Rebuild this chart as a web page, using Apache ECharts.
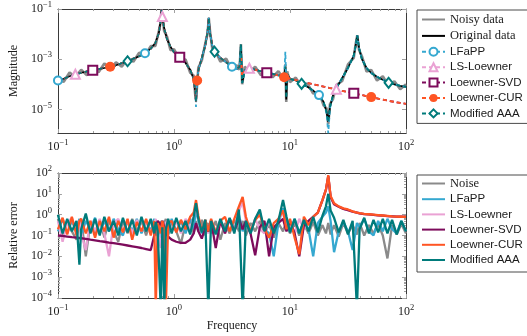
<!DOCTYPE html>
<html><head><meta charset="utf-8">
<script src="https://cdn.jsdelivr.net/npm/echarts@6/dist/echarts.min.js"></script>
<style>html,body{margin:0;padding:0;background:#fff}#c{width:527px;height:336px}</style>
</head><body><div id="c"></div><script>
// ---------- DATA (log10 values) ----------
// Top panel: frequency grid (log10 f)
const topLogF = [-1.00,-0.95,-0.90,-0.85,-0.80,-0.75,-0.70,-0.65,-0.60,-0.55,-0.50,-0.45,-0.40,-0.35,-0.30,-0.25,-0.20,-0.16,-0.13,-0.115,-0.108,-0.10,-0.085,-0.06,-0.03,0.00,0.05,0.10,0.14,0.17,0.183,0.19,0.20,0.21,0.24,0.27,0.29,0.30,0.31,0.33,0.35,0.40,0.45,0.50,0.54,0.565,0.577,0.588,0.61,0.65,0.70,0.75,0.80,0.85,0.90,0.95,0.96,0.968,0.976,1.00,1.05,1.10,1.15,1.20,1.25,1.29,1.315,1.33,1.345,1.37,1.40,1.45,1.50,1.55,1.565,1.58,1.595,1.62,1.66,1.70,1.75,1.80,1.85,1.90,1.95,2.00];
// log10 magnitude
const noisyMag = [-3.80,-3.90,-3.53,-3.70,-3.42,-3.64,-3.36,-3.52,-3.17,-3.40,-3.12,-3.30,-2.98,-3.10,-2.74,-2.84,-2.48,-2.47,-1.87,-1.55,-1.02,-1.25,-1.87,-2.10,-2.64,-2.60,-3.02,-3.01,-3.54,-3.65,-4.40,-4.60,-4.00,-3.33,-3.05,-2.37,-1.98,-1.35,-1.85,-2.57,-2.60,-3.10,-2.98,-3.42,-3.24,-3.42,-2.40,-4.00,-3.30,-3.50,-3.30,-3.64,-3.42,-3.72,-3.48,-3.82,-3.20,-4.70,-3.48,-3.92,-3.73,-4.13,-3.96,-4.37,-4.31,-4.85,-4.95,-5.60,-4.78,-4.60,-4.03,-3.87,-3.21,-2.95,-2.42,-2.05,-2.63,-2.88,-3.49,-3.43,-3.85,-3.68,-4.06,-3.88,-4.20,-4.00];
const originalMag = [-3.85,-3.78,-3.68,-3.60,-3.54,-3.49,-3.44,-3.40,-3.35,-3.30,-3.24,-3.16,-3.08,-2.98,-2.88,-2.76,-2.58,-2.35,-1.95,-1.45,-1.02,-1.30,-1.75,-2.20,-2.50,-2.72,-2.92,-3.15,-3.42,-3.80,-4.25,-4.70,-3.85,-3.45,-2.95,-2.45,-1.90,-1.35,-1.95,-2.45,-2.70,-2.95,-3.12,-3.30,-3.40,-3.30,-2.45,-3.95,-3.45,-3.36,-3.42,-3.48,-3.54,-3.58,-3.64,-3.70,-3.30,-4.60,-3.60,-3.78,-3.85,-3.98,-4.10,-4.25,-4.43,-4.70,-5.10,-5.50,-4.90,-4.45,-4.15,-3.75,-3.35,-2.85,-2.50,-2.05,-2.55,-3.00,-3.35,-3.55,-3.70,-3.82,-3.94,-4.00,-4.06,-4.10];
const lfappMag = [-3.85,-3.78,-3.68,-3.60,-3.54,-3.49,-3.44,-3.40,-3.35,-3.30,-3.24,-3.16,-3.08,-2.98,-2.88,-2.76,-2.58,-2.35,-1.95,-1.45,-1.02,-1.30,-1.75,-2.20,-2.50,-2.72,-2.92,-3.15,-3.42,-3.80,-4.25,-4.90,-3.85,-3.45,-2.95,-2.45,-1.90,-1.35,-1.95,-2.45,-2.70,-2.95,-3.12,-3.30,-3.40,-3.30,-2.45,-3.95,-3.45,-3.36,-3.42,-3.48,-3.54,-3.58,-3.64,-3.70,-2.70,-3.95,-3.62,-3.78,-3.85,-3.98,-4.10,-4.25,-4.43,-4.70,-5.15,-5.95,-4.95,-4.45,-4.15,-3.75,-3.35,-2.85,-2.50,-2.05,-2.55,-3.00,-3.35,-3.55,-3.70,-3.82,-3.94,-4.00,-4.06,-4.10];
const lsMag = [-3.85,-3.78,-3.68,-3.60,-3.54,-3.49,-3.44,-3.40,-3.35,-3.30,-3.24,-3.16,-3.08,-2.98,-2.88,-2.76,-2.58,-2.35,-1.95,-1.45,-1.02,-1.30,-1.75,-2.20,-2.50,-2.72,-2.92,-3.15,-3.42,-3.80,-4.25,-4.70,-3.85,-3.45,-2.95,-2.45,-1.90,-1.35,-1.95,-2.45,-2.70,-2.95,-3.12,-3.30,-3.40,-3.30,-2.90,-3.70,-3.45,-3.36,-3.42,-3.48,-3.54,-3.59,-3.65,-3.72,-3.73,-3.74,-3.75,-3.77,-3.83,-3.89,-3.95,-4.00,-4.05,-4.09,-4.12,-4.13,-4.15,-4.17,-4.20,-4.26,-4.31,-4.36,-4.37,-4.39,-4.40,-4.43,-4.47,-4.51,-4.56,-4.61,-4.66,-4.70,-4.74,-4.78];
const svdMag = [-3.85,-3.78,-3.68,-3.60,-3.54,-3.49,-3.44,-3.40,-3.35,-3.30,-3.24,-3.16,-3.08,-2.98,-2.88,-2.76,-2.58,-2.35,-1.95,-1.45,-1.02,-1.30,-1.75,-2.20,-2.50,-2.72,-2.92,-3.15,-3.42,-3.80,-4.25,-4.70,-3.85,-3.45,-2.95,-2.45,-1.90,-1.35,-1.95,-2.45,-2.70,-2.95,-3.12,-3.30,-3.40,-3.30,-2.90,-3.70,-3.45,-3.36,-3.42,-3.48,-3.54,-3.59,-3.65,-3.72,-3.73,-3.74,-3.75,-3.77,-3.83,-3.89,-3.95,-4.00,-4.05,-4.09,-4.12,-4.13,-4.15,-4.17,-4.20,-4.26,-4.31,-4.36,-4.37,-4.39,-4.40,-4.43,-4.47,-4.51,-4.56,-4.61,-4.66,-4.70,-4.74,-4.78];
const curMag = [-3.85,-3.78,-3.68,-3.60,-3.54,-3.49,-3.44,-3.40,-3.35,-3.30,-3.24,-3.16,-3.08,-2.98,-2.88,-2.76,-2.58,-2.35,-1.95,-1.45,-1.02,-1.30,-1.75,-2.20,-2.50,-2.72,-2.92,-3.15,-3.42,-3.80,-4.25,-4.70,-3.85,-3.45,-2.95,-2.45,-1.90,-1.35,-1.95,-2.45,-2.70,-2.95,-3.12,-3.30,-3.40,-3.30,-2.90,-3.70,-3.45,-3.36,-3.42,-3.48,-3.54,-3.59,-3.65,-3.72,-3.73,-3.74,-3.75,-3.77,-3.83,-3.89,-3.95,-4.00,-4.05,-4.09,-4.12,-4.13,-4.15,-4.17,-4.20,-4.26,-4.31,-4.36,-4.37,-4.39,-4.40,-4.43,-4.47,-4.51,-4.56,-4.61,-4.66,-4.70,-4.74,-4.78];
const aaaMag = [-3.85,-3.78,-3.68,-3.60,-3.54,-3.49,-3.44,-3.40,-3.35,-3.30,-3.24,-3.16,-3.08,-2.98,-2.88,-2.76,-2.58,-2.35,-1.95,-1.45,-1.02,-1.30,-1.75,-2.20,-2.50,-2.72,-2.92,-3.15,-3.42,-3.80,-4.25,-4.70,-3.85,-3.45,-2.95,-2.45,-1.90,-1.35,-1.95,-2.45,-2.70,-2.95,-3.12,-3.30,-3.40,-3.30,-2.40,-3.95,-3.45,-3.36,-3.42,-3.48,-3.54,-3.58,-3.64,-3.70,-3.30,-4.55,-3.60,-3.78,-3.85,-3.98,-4.10,-4.25,-4.43,-4.70,-5.10,-5.50,-4.90,-4.45,-4.15,-3.75,-3.35,-2.85,-2.50,-2.05,-2.55,-3.00,-3.35,-3.55,-3.70,-3.82,-3.94,-4.00,-4.06,-4.10];
// marker locations (log10 f)
const lfappMarks = [-1.00,-0.25,0.50,1.25];
const lsMarks = [-0.85,-0.10,0.65,1.40];
const svdMarks = [-0.70,0.05,0.80,1.55];
const curMarks = [-0.55,0.20,0.95,1.70];
const aaaMarks = [-0.40,0.35,1.10,1.85];

// Bottom panel: frequency grid (log10 f), log10 relative error
const botLogF = [-1.00,-0.96,-0.92,-0.88,-0.84,-0.815,-0.80,-0.76,-0.72,-0.68,-0.64,-0.60,-0.56,-0.52,-0.48,-0.44,-0.40,-0.36,-0.32,-0.28,-0.24,-0.20,-0.17,-0.157,-0.14,-0.114,-0.10,-0.083,-0.07,-0.05,-0.02,0.02,0.06,0.10,0.14,0.17,0.19,0.21,0.24,0.27,0.296,0.32,0.36,0.40,0.44,0.48,0.52,0.56,0.592,0.62,0.66,0.70,0.74,0.78,0.82,0.86,0.90,0.94,0.97,1.00,1.04,1.08,1.12,1.16,1.20,1.24,1.28,1.31,1.33,1.35,1.38,1.42,1.46,1.50,1.54,1.577,1.60,1.64,1.68,1.72,1.76,1.80,1.84,1.88,1.92,1.96,2.00];
const noiseErr = [-0.2,-1.0,-0.3,-0.8,-1.2,-0.4,-0.2,-2.0,-0.4,-0.9,-0.25,-1.1,-0.3,-0.8,-1.3,-0.3,-0.9,-0.2,-0.8,-0.3,-1.0,-0.25,-0.8,-0.35,-1.0,-0.3,-1.6,-0.4,-0.2,-1.0,-0.3,-0.8,-1.4,-0.4,-0.2,-0.9,-0.3,-0.8,-0.25,-1.0,-0.4,-0.9,-0.3,-1.2,-0.4,-0.9,-0.25,-0.8,-0.3,-1.0,-0.4,-0.8,-0.3,-0.9,-0.45,-1.1,-0.4,-0.8,-0.3,-0.9,-0.4,-1.0,-0.45,-0.9,-0.35,-1.0,-0.5,-0.9,-0.4,-0.95,-0.5,-1.05,-0.4,-0.9,-0.5,-0.95,-0.4,-1.0,-0.5,-0.9,-0.45,-1.0,-2.1,-0.5,-0.95,-0.45,-0.9];
const lfappErr = [-0.8,-0.2,-0.9,-0.3,-0.8,-0.2,-1.0,-0.3,-0.7,-0.15,-0.9,-0.3,-0.8,-0.2,-0.7,-1.0,-0.3,-0.8,-0.2,-0.9,-0.3,-0.8,-0.2,-1.0,-0.4,-1.5,-0.3,-1.0,-0.4,-0.9,-0.2,-0.8,-0.3,-0.9,-0.2,-0.7,0.3,-0.3,-0.9,-0.25,-0.8,-0.3,-0.9,-0.25,-0.8,-0.2,-0.7,0.0,-0.8,-0.3,-0.9,-0.2,0.1,-0.7,-0.9,-2.0,-0.4,0.3,-0.3,-0.8,-0.2,-0.9,-0.3,-0.7,-2.0,-0.4,-0.1,0.1,0.4,-0.3,-1.8,-0.8,-0.35,-0.8,-1.7,-0.4,-0.6,-0.2,-0.8,-1.0,-0.3,-0.8,-0.2,-0.7,-0.9,-0.3,-0.8];
const lsErr = [-0.3,-1.3,-0.4,-0.15,-0.8,-0.3,-0.9,-1.7,-0.3,-0.8,-0.2,-0.9,-2.0,-0.4,-0.2,-0.8,-0.3,-0.9,-0.25,-0.8,-0.3,-0.9,-0.4,-0.2,-0.8,-1.6,-0.3,-0.9,-0.4,-0.25,-0.8,-0.3,-0.9,-0.2,-0.7,-0.1,0.5,-0.2,-0.8,-0.3,-0.9,-0.25,-0.8,-0.3,-0.9,-0.2,-0.8,0.2,0.6,-0.3,-0.8,-0.2,-0.7,-0.9,-0.3,-0.8,-0.2,0.1,-0.7,-0.3,-0.9,-0.2,-0.7,-0.3,-0.1,0.1,0.7,1.2,1.85,0.85,0.5,0.38,0.28,0.22,0.15,0.1,0.06,0.03,0.01,-0.01,-0.03,-0.05,-0.07,-0.08,-0.09,-0.1,-0.11];
const svdErr = [-1.0,-1.02,-1.05,-1.08,-1.1,-1.12,-1.13,-1.16,-1.2,-1.23,-1.27,-1.3,-1.34,-1.37,-1.4,-1.44,-1.48,-1.52,-1.56,-1.6,-1.65,-1.7,-1.0,-0.6,-0.3,-0.5,-0.3,-0.6,-0.9,-1.05,-1.2,-1.3,-1.35,-1.35,-1.2,-0.9,-0.4,-0.8,-1.15,-0.6,-0.8,-0.3,-1.6,-0.3,-0.9,-0.2,-0.8,-0.2,-0.7,-0.3,-0.9,-1.95,-0.6,-0.3,-2.0,-0.6,-0.4,-0.2,-0.8,-0.3,-0.9,-2.0,-0.5,-0.3,-0.1,0.1,0.7,1.2,1.85,0.85,0.5,0.38,0.28,0.22,0.15,0.1,0.06,0.03,0.01,-0.01,-0.03,-0.05,-0.07,-0.08,-0.09,-0.1,-0.11];
const curErr = [-0.7,-0.15,-0.95,-0.1,-1.0,-0.3,-0.2,-0.9,-0.3,-1.1,-0.3,-0.8,-0.1,-1.1,-0.3,-0.85,-0.2,-1.2,-0.35,-0.8,-0.2,-1.0,-0.3,-4.5,-0.4,-0.9,-0.3,-0.8,-4.5,-0.4,-0.3,-0.85,-0.25,-0.7,-0.1,0.1,0.7,-0.05,-0.8,-0.25,-0.8,-0.2,-0.85,-0.3,-0.1,-0.8,-0.2,0.4,0.85,-0.1,-0.8,-0.25,0.0,-0.7,-1.1,-0.4,-0.2,0.2,-0.7,-0.2,-1.1,-1.9,-0.1,-0.5,-0.1,0.1,0.7,1.2,1.9,0.9,0.55,0.4,0.3,0.25,0.16,0.1,0.07,0.04,0.02,0.0,-0.02,-0.04,-0.06,-0.08,-0.09,-0.1,-0.11];
const aaaErr = [0.0,-0.9,-0.2,-0.8,-0.3,-2.4,-0.7,0.05,-0.9,-0.2,-1.0,-0.1,-0.8,-0.3,-1.0,-0.15,-0.85,-0.25,-1.0,-0.1,-0.8,-0.2,-0.9,-0.35,-0.8,-4.5,-0.6,-4.5,-0.7,-0.2,-0.9,-0.15,-0.8,-0.3,-0.95,-0.1,0.55,-0.2,-0.85,-0.25,-4.5,-0.3,-0.95,-0.2,-0.8,-0.15,-0.9,0.25,-4.5,-0.3,-0.9,-0.2,0.25,-0.8,-0.2,-0.9,-0.3,0.7,-0.1,-0.85,-0.2,-0.9,-0.25,-0.8,-0.1,-0.85,-0.05,0.4,1.0,0.2,-0.15,-0.85,-0.25,-0.95,-0.3,-4.5,-0.7,-0.15,-0.9,-0.25,-0.85,-0.2,-0.9,-0.25,-0.95,-0.3,-0.8];

// tick label values
const xMajor = [0.1, 1, 10, 100];
const yTopLabels = [1e-5, 1e-3, 1e-1];
const yBotLabels = [1e-4, 1e-3, 1e-2, 1e-1, 1, 10, 100];

// ---------- BUILD ----------
const P = v => Math.pow(10, v);
const near = (a, list) => list.some(m => Math.abs(m - a) < 1e-9);
function topData(vals, marks) {
  return topLogF.map((lf, i) => {
    const d = { value: [P(lf), P(vals[i])] };
    if (!marks || !near(lf, marks)) d.symbol = 'none';
    return d;
  });
}
function botData(vals) { return botLogF.map((lf, i) => [P(lf), P(vals[i])]); }
function minorOf(majors) {
  const out = [];
  for (let k = 0; k < majors.length - 1; k++) for (let m = 2; m <= 9; m++) out.push(majors[k] * m);
  return out;
}
const xMinor = minorOf(xMajor);
const yBotMinor = minorOf(yBotLabels);

const SERIF = 'Liberation Serif', SANS = 'Liberation Sans';
const TXT = '#1a1a1a';
const RICH = {
  b: { fontFamily: SERIF, fontSize: 12, color: TXT },
  s: { fontFamily: SERIF, fontSize: 8.5, color: TXT, padding: [0, 0, 8, 0] }
};
function supLabel(v) {
  const e = Math.round(Math.log10(v));
  return '{b|10}{s|' + (e < 0 ? '\u2212' + (-e) : e) + '}';
}
function axis(kind, grid, pos, min, max, ticks, len, line, labels, extra) {
  return Object.assign({
    type: 'log', logBase: 10, gridIndex: grid, position: pos, min: min, max: max,
    axisLine: { show: line, onZero: false, lineStyle: { color: '#3a3a3a', width: 1 } },
    axisTick: { show: true, inside: true, length: len, customValues: ticks, lineStyle: { color: '#a0a0a0', width: 1 } },
    axisLabel: labels ? { show: true, customValues: labels, formatter: supLabel, rich: RICH, margin: kind === 'x' ? 5 : 6, hideOverlap: false } : { show: false },
    splitLine: { show: false }, minorTick: { show: false }, minorSplitLine: { show: false },
    axisPointer: { show: false }
  }, extra || {});
}
const NAME = { fontFamily: SERIF, fontSize: 12, color: TXT };
const yTopMin = P(-5.94);

const xAxes = [
  axis('x', 0, 'bottom', 0.1, 100, xMajor, 4, true, xMajor),
  axis('x', 0, 'top', 0.1, 100, xMajor, 4, true, null),
  axis('x', 0, 'bottom', 0.1, 100, xMinor, 2, false, null),
  axis('x', 0, 'top', 0.1, 100, xMinor, 2, false, null),
  axis('x', 1, 'bottom', 0.1, 100, xMajor, 4, true, xMajor, { name: 'Frequency', nameLocation: 'middle', nameGap: 22, nameTextStyle: NAME }),
  axis('x', 1, 'top', 0.1, 100, xMajor, 4, true, null),
  axis('x', 1, 'bottom', 0.1, 100, xMinor, 2, false, null),
  axis('x', 1, 'top', 0.1, 100, xMinor, 2, false, null)
];
const yAxes = [
  axis('y', 0, 'left', yTopMin, 0.1, yTopLabels, 4, true, yTopLabels, { name: 'Magnitude', nameLocation: 'middle', nameGap: 37, nameTextStyle: NAME }),
  axis('y', 0, 'right', yTopMin, 0.1, yTopLabels, 4, true, null),
  axis('y', 1, 'left', 1e-4, 100, yBotLabels, 4, true, yBotLabels, { name: 'Relative error', nameLocation: 'middle', nameGap: 35, nameTextStyle: NAME }),
  axis('y', 1, 'right', 1e-4, 100, yBotLabels, 4, true, null),
  axis('y', 1, 'left', 1e-4, 100, yBotMinor, 2, false, null),
  axis('y', 1, 'right', 1e-4, 100, yBotMinor, 2, false, null)
];

const C = { noisy: '#8a8a8a', orig: '#000000', lfapp: '#35a8d0', ls: '#eaa2d4', svd: '#7d0b5b', cur: '#ff5524', aaa: '#007b7b' };
const DASH = [4, 3];
function topSeries(name, vals, color, opts) {
  return {
    name: name, type: 'line', xAxisIndex: 0, yAxisIndex: 0, data: topData(vals, opts.marks),
    symbol: opts.symbol, symbolSize: opts.size || 8, showSymbol: !!opts.marks,
    lineStyle: { color: color, width: opts.width || 1.8, type: opts.dash ? DASH : 'solid' },
    itemStyle: { color: color }, emphasis: { disabled: true }, silent: true
  };
}
function botSeries(name, vals, color) {
  return {
    name: name, type: 'line', xAxisIndex: 4, yAxisIndex: 2, data: botData(vals),
    symbol: 'line', showSymbol: false, lineStyle: { color: color, width: 2.3 }, itemStyle: { color: color },
    emphasis: { disabled: true }, silent: true
  };
}
const series = [
  topSeries('Noisy data', noisyMag, C.noisy, { symbol: 'line', width: 2.6 }),
  topSeries('Original data', originalMag, C.orig, { symbol: 'line', width: 1.7 }),
  topSeries('LFaPP', lfappMag, C.lfapp, { symbol: 'emptyCircle', size: 8, dash: true, marks: lfappMarks }),
  topSeries('LS-Loewner', lsMag, C.ls, { symbol: 'emptyTriangle', size: 9, dash: true, marks: lsMarks }),
  topSeries('Loewner-SVD', svdMag, C.svd, { symbol: 'emptyRect', size: 9, dash: true, marks: svdMarks }),
  topSeries('Loewner-CUR', curMag, C.cur, { symbol: 'circle', size: 10, dash: true, marks: curMarks }),
  topSeries('Modified AAA', aaaMag, C.aaa, { symbol: 'emptyDiamond', size: [8, 10], dash: true, marks: aaaMarks }),
  botSeries('Noise', noiseErr, C.noisy),
  botSeries('LFaPP ', lfappErr, C.lfapp),
  botSeries('LS-Loewner ', lsErr, C.ls),
  botSeries('Loewner-SVD ', svdErr, C.svd),
  botSeries('Loewner-CUR ', curErr, C.cur),
  botSeries('Modified AAA ', aaaErr, C.aaa)
];

const serifNames = ['Noisy data', 'Original data', 'Noise'];
function legend(top, names, pad, gap) {
  return {
    orient: 'vertical', left: 417, top: top, data: names, selectedMode: false,
    itemWidth: 23, itemHeight: 10, itemGap: gap, padding: pad,
    borderColor: '#4a4a4a', borderWidth: 1, backgroundColor: '#fff',
    formatter: n => serifNames.indexOf(n.trim()) >= 0 ? '{r|' + n.trim() + '}' : '{s|' + n.trim() + '}',
    textStyle: {
      color: TXT, fontSize: 11.5, lineHeight: 12,
      rich: { r: { fontFamily: SERIF, fontSize: 12.5, lineHeight: 12, color: TXT }, s: { fontFamily: SANS, fontSize: 11.5, lineHeight: 12, color: TXT } }
    }
  };
}

const option = {
  animation: false,
  backgroundColor: '#fff',
  grid: [
    { left: 54, top: 9, width: 352, height: 124 },
    { left: 54, top: 173, width: 352, height: 125 }
  ],
  xAxis: xAxes,
  yAxis: yAxes,
  legend: [
    legend(10, ['Noisy data', 'Original data', 'LFaPP', 'LS-Loewner', 'Loewner-SVD', 'Loewner-CUR', 'Modified AAA'], [3, 9, 4, 4], 3.4),
    legend(175, ['Noise', 'LFaPP ', 'LS-Loewner ', 'Loewner-SVD ', 'Loewner-CUR ', 'Modified AAA '], [2, 9, 6, 4], 3.2)
  ],
  series: series
};
const chart = echarts.init(document.getElementById('c'), null, { renderer: 'canvas' });
chart.setOption(option);
</script></body></html>
